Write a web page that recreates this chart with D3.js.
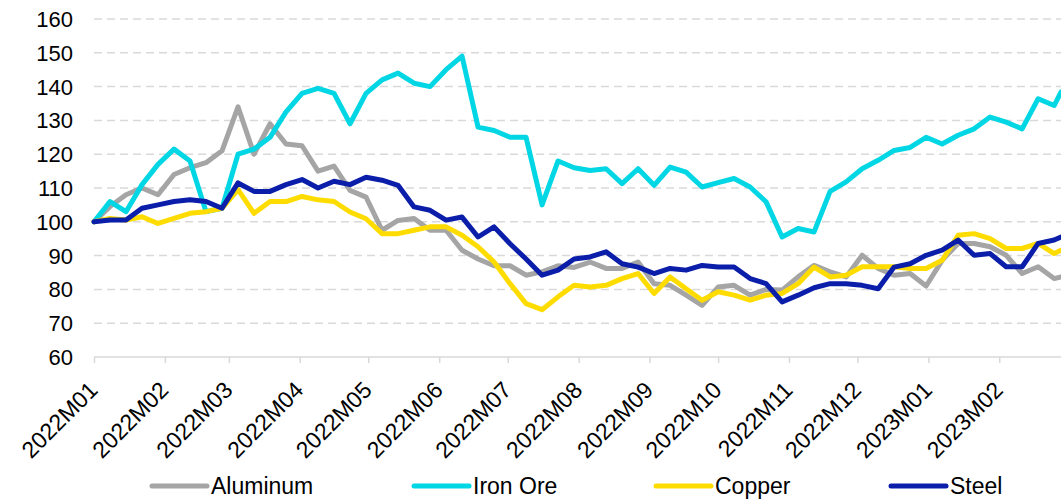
<!DOCTYPE html>
<html>
<head>
<meta charset="utf-8">
<script src="https://cdn.jsdelivr.net/npm/d3@7"></script>
<style>
  html, body { margin: 0; padding: 0; background: #fff; }
  svg { display: block; font-family: "Liberation Sans", Arial, sans-serif; }
</style>
</head>
<body>
<div class="chart-container"></div>
<script>
// weekly samples starting 2022-01-01, last point 2023-02-28
var startDate = "2022-01-01";
var lastDate = "2023-02-28";

var seriesNames = ["Aluminum", "Iron Ore", "Copper", "Steel"];

var aluminum = [100, 104.5, 108, 110, 108, 114, 116, 117.5, 121, 134, 120, 129, 123, 122.5, 115, 116.5,
  109.3, 107.3, 97.5, 100.4, 101, 97.5, 97.5, 91.6, 89, 87, 87, 84.2, 85.2, 87, 86.5,
  88.1, 86.2, 86.2, 88.1, 81.7, 81.2, 78.3, 75.3, 80.7, 81.2, 78.3, 80, 79.8, 83.7, 87.1,
  85.2, 83.7, 90.1, 86.2, 84.2, 84.7, 81, 88.6, 93.6, 93.6, 92.6, 90.1, 84.7, 86.7, 83.2, 83.7];

var ironOre = [100, 106, 103, 111, 117, 121.5, 118, 103, 104, 120, 121.5, 125, 132.5, 138, 139.5, 138,
  129, 138, 142, 144, 141, 140, 145, 149, 128, 127, 125, 125, 105, 118, 116,
  115.2, 115.7, 111.3, 115.7, 110.8, 116.2, 114.7, 110.3, 111.6, 112.8, 110.3, 105.9, 95.5, 98, 97,
  109, 111.8, 115.7, 118.2, 121.1, 122, 125, 123, 125.6, 127.5, 131, 129.5, 127.5, 136.4, 134.4, 138.4];

var copper = [100, 101, 100.5, 101.5, 99.5, 101, 102.5, 103, 104, 109.5, 102.5, 106, 106, 107.5, 106.5, 106,
  102.9, 100.9, 96.5, 96.5, 97.5, 98.5, 98.5, 96, 92.6, 88.1, 81.7, 75.8, 74, 77.8, 81.2,
  80.7, 81.2, 83.2, 84.7, 78.8, 83.7, 80.2, 76.8, 79.3, 78.3, 76.8, 78.3, 78.8, 81.7, 86.6,
  83.7, 84.2, 86.7, 86.7, 86.7, 86.2, 86.2, 88.6, 96, 96.5, 95, 92.1, 92.1, 93.6, 90.6, 91.6];

var steel = [100, 100.5, 100.5, 104, 105, 106, 106.5, 106, 104, 111.5, 109, 109, 111, 112.5, 110, 112,
  111, 113.2, 112.3, 110.8, 104.4, 103.4, 100.5, 101.4, 95.5, 98.5, 93.5, 89, 84.2, 85.7, 89,
  89.6, 91.1, 87.6, 86.6, 84.7, 86.2, 85.7, 87.1, 86.6, 86.6, 83.2, 81.7, 76.3, 78.3, 80.5,
  81.7, 81.7, 81.2, 80.2, 86.6, 87.6, 90.1, 91.6, 94.6, 90.1, 90.6, 86.7, 86.7, 93.6, 94.6, 95.5];

var yTicks = [60, 70, 80, 90, 100, 110, 120, 130, 140, 150, 160];

var parse = d3.timeParse("%Y-%m-%d");
var dates = [];
for (var i = 0; i < aluminum.length - 1; i++) {
  dates.push(d3.timeDay.offset(parse(startDate), 7 * i));
}
dates.push(parse(lastDate));

var colors = ["#a5a5a5", "#00d6e4", "#ffdc00", "#0a1eaa"];
var allValues = [aluminum, ironOre, copper, steel];

var width = 1061, height = 499;
var margin = {top: 19, right: 0, bottom: 142, left: 94};

var svg = d3.select(".chart-container").append("svg")
  .attr("width", width)
  .attr("height", height);

var x = d3.scaleTime()
  .domain([parse(startDate), parse(lastDate)])
  .range([margin.left, width - margin.right]);

var y = d3.scaleLinear()
  .domain([60, 160])
  .range([height - margin.bottom, margin.top]);

// dashed gridlines
svg.append("g")
  .selectAll("line")
  .data(yTicks.slice(1))
  .enter().append("line")
  .attr("x1", margin.left)
  .attr("x2", width)
  .attr("y1", function(d) { return y(d); })
  .attr("y2", function(d) { return y(d); })
  .attr("stroke", "#d9d9d9")
  .attr("stroke-width", 1.5)
  .attr("stroke-dasharray", "8,5");

// y labels
svg.append("g")
  .selectAll("text")
  .data(yTicks)
  .enter().append("text")
  .attr("x", 73)
  .attr("y", function(d) { return y(d); })
  .attr("dy", "0.36em")
  .attr("text-anchor", "end")
  .style("font-size", "22px")
  .attr("fill", "#000")
  .text(function(d) { return d; });

// x axis
var xAxis = d3.axisBottom(x)
  .ticks(d3.timeMonth.every(1))
  .tickFormat(d3.timeFormat("%YM%m"))
  .tickSize(6)
  .tickSizeOuter(0);

var gx = svg.append("g")
  .attr("class", "xAxis")
  .attr("transform", "translate(0," + y(60) + ")")
  .call(xAxis);

gx.select(".domain")
  .attr("stroke", "#d9d9d9")
  .attr("stroke-width", 1.5)
  .attr("d", "M" + margin.left + ",0H" + width);

gx.selectAll(".tick line")
  .attr("stroke", "#d9d9d9")
  .attr("stroke-width", 1.5);

gx.selectAll(".tick text")
  .style("font-size", "23px")
  .style("font-family", "Liberation Sans, Arial, sans-serif")
  .attr("fill", "#000")
  .attr("text-anchor", "end")
  .attr("transform", "translate(-7,23) rotate(-45)")
  .attr("y", 0)
  .attr("dy", "0.71em")
  .attr("x", 0);

// lines
var line = d3.line()
  .x(function(d, i) { return x(dates[i]); })
  .y(function(d) { return y(d); });

svg.append("g")
  .selectAll("path")
  .data(allValues)
  .enter().append("path")
  .attr("fill", "none")
  .attr("stroke", function(d, i) { return colors[i]; })
  .attr("stroke-width", 5)
  .attr("stroke-linejoin", "round")
  .attr("stroke-linecap", "round")
  .attr("d", line);

// legend
var legendX = [152, 414, 656, 891];
var legend = svg.append("g")
  .selectAll("g")
  .data(seriesNames)
  .enter().append("g")
  .attr("transform", function(d, i) { return "translate(" + legendX[i] + ",486)"; });

legend.append("line")
  .attr("x1", 0)
  .attr("x2", 55)
  .attr("stroke", function(d, i) { return colors[i]; })
  .attr("stroke-width", 5)
  .attr("stroke-linecap", "round");

legend.append("text")
  .attr("x", 59)
  .attr("dy", "0.34em")
  .style("font-size", "23px")
  .attr("fill", "#000")
  .text(function(d) { return d; });
</script>
</body>
</html>
